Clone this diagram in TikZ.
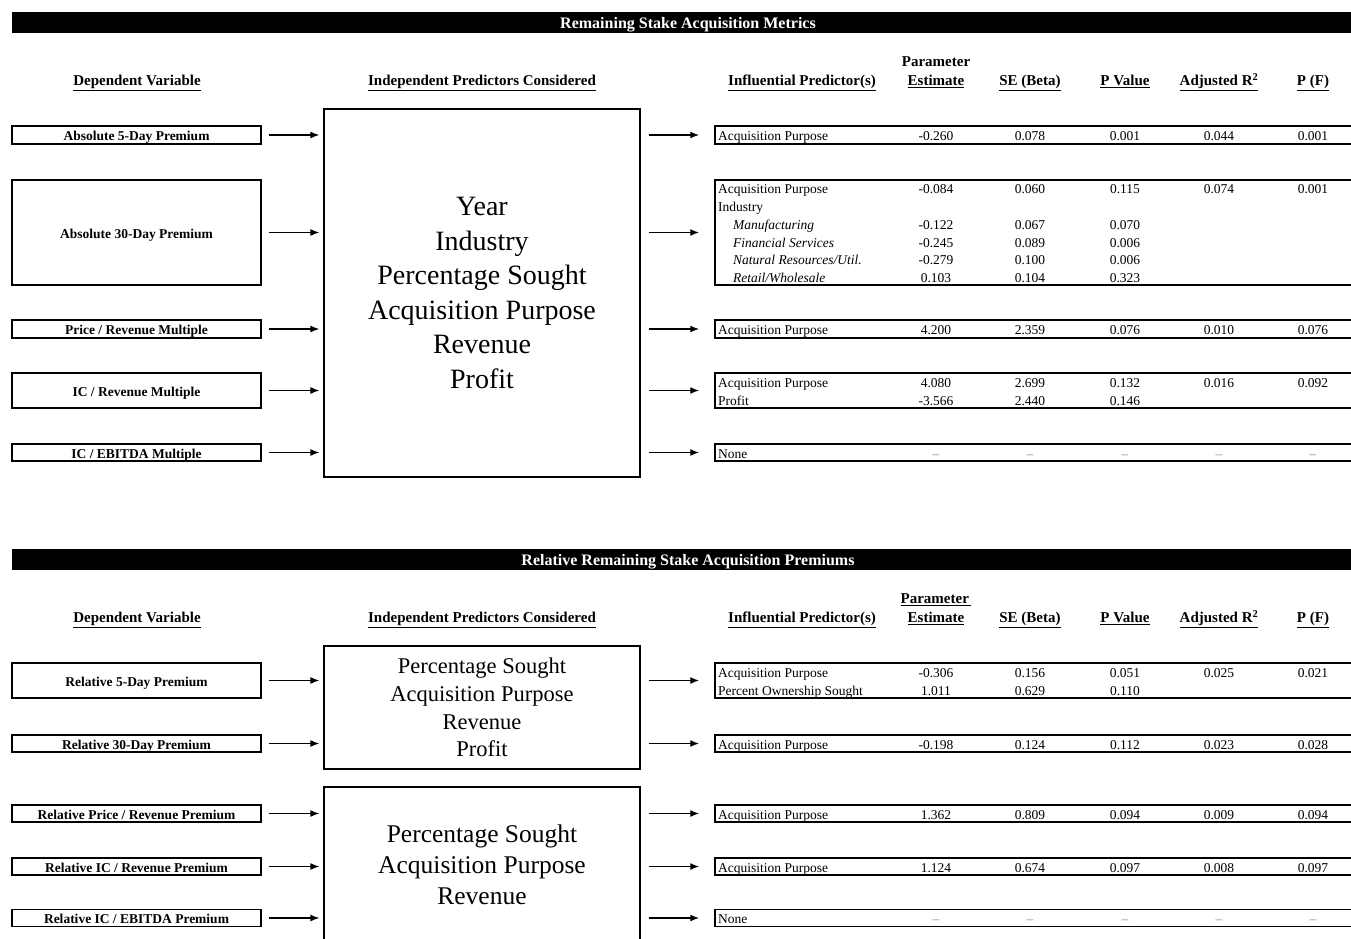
\documentclass[tikz,border=0pt]{standalone}
\usepackage{fontspec}
\setmainfont{Liberation Serif}
\usetikzlibrary{arrows.meta,calc}
\tikzset{
  titlebar/.style={fill=black,minimum width=1351pt,minimum height=21pt,inner sep=0pt},
  titletext/.style={text=white,font=\fontsize{16}{18}\selectfont\bfseries,inner sep=0pt,text height=11.5pt,text depth=0pt},
  hdr/.style={font=\fontsize{15}{17}\selectfont\bfseries,inner sep=0pt,text height=10.5pt,text depth=3pt},
  lbox/.style={draw,line width=1.4pt,minimum width=249pt,inner sep=0pt,font=\fontsize{13.5}{15}\selectfont\bfseries,text height=11pt,text depth=0pt},
  midbox/.style={draw,line width=1.2pt,minimum width=316pt,inner sep=0pt,align=center},
  rbox/.style={draw,line width=1.5pt,minimum width=645pt,inner sep=0pt},
  pred/.style={anchor=west,inner sep=0pt,font=\fontsize{13.5}{15}\selectfont,text height=11pt,text depth=0pt},
  sub/.style={pred,font=\fontsize{13.5}{15}\selectfont\itshape},
  val/.style={inner sep=0pt,font=\fontsize{13.5}{15}\selectfont,text height=11pt,text depth=0pt},
  nil/.style={val,text=black!45},
  arr/.style={line width=1.4pt,-{Latex[length=9pt,width=7pt]}},
}
\newcommand\vals[7]{%
  \node[val] (#1-pe) at (936,#2) {#3};
  \node[val] (#1-se) at (1030,#2) {#4};
  \node[val] (#1-p) at (1125,#2) {#5};
  \node[val] (#1-adj) at (1219,#2) {#6};
  \node[val] (#1-pf) at (1313,#2) {#7};}
\newcommand\headers[3]{%
  \node[hdr] (#1-dv) at (137,#2) {\underline{Dependent Variable}};
  \node[hdr] (#1-ip) at (482,#2) {\underline{Independent Predictors Considered}};
  \node[hdr] (#1-inf) at (802,#2) {\underline{Influential Predictor(s)}};
  \node[hdr] (#1-par) at (936,#2-19) {#3};
  \node[hdr] (#1-est) at (936,#2) {\underline{Estimate}};
  \node[hdr] (#1-seh) at (1030,#2) {\underline{SE (Beta)}};
  \node[hdr] (#1-pv) at (1125,#2) {\underline{P Value}};
  \node[hdr] (#1-ar) at (1219,#2) {\underline{Adjusted R\textsuperscript{2}}};
  \node[hdr] (#1-pfh) at (1313,#2) {\underline{P (F)}};}
\begin{document}
\begin{tikzpicture}[x=1pt,y=-1pt]
\useasboundingbox (0,0) rectangle (1351,939);
\clip (0,0) rectangle (1351,939);

% ---------------- Section 1 ----------------
\node[titlebar] (t1) at (687.5,22.5) {};
\node[titletext] (t1t) at (688,22.5) {Remaining Stake Acquisition Metrics};
\headers{h1}{82}{Parameter}

\node[lbox,minimum height=18pt] (a1) at (136.5,135) {Absolute 5-Day Premium};
\node[lbox,minimum height=105pt] (a2) at (136.5,232.5) {Absolute 30-Day Premium};
\node[lbox,minimum height=18pt] (a3) at (136.5,329) {Price / Revenue Multiple};
\node[lbox,minimum height=35pt] (a4) at (136.5,390.5) {IC / Revenue Multiple};
\node[lbox,minimum height=17pt] (a5) at (136.5,452.5) {IC / EBITDA Multiple};

\node[midbox,minimum height=368pt,font=\fontsize{28}{34.6}\selectfont] (m1) at (482,293)
  {Year\\Industry\\Percentage Sought\\Acquisition Purpose\\Revenue\\Profit};

\node[rbox,minimum height=18pt] (r1) at (1037.5,135) {};
\node[rbox,minimum height=105pt] (r2) at (1037.5,232.5) {};
\node[rbox,minimum height=18pt] (r3) at (1037.5,329) {};
\node[rbox,minimum height=35pt] (r4) at (1037.5,390.5) {};
\node[rbox,minimum height=17pt] (r5) at (1037.5,452.5) {};

\foreach \i in {1,...,5}{
  \draw[arr,shorten <=7pt,shorten >=4pt] (a\i.east) -- (a\i.east -| m1.west);
  \draw[arr,shorten <=8pt,shorten >=15pt] (r\i.west -| m1.east) -- (r\i.west);
}

\node[pred] (p1) at (718,135) {Acquisition Purpose};
\vals{v1}{135}{-0.260}{0.078}{0.001}{0.044}{0.001}

\node[pred] (p2a) at (718,188) {Acquisition Purpose};
\vals{v2a}{188}{-0.084}{0.060}{0.115}{0.074}{0.001}
\node[pred] (p2b) at (718,206) {Industry};
\node[sub] (p2c) at (733,224) {Manufacturing};
\node[val] (v2c-pe) at (936,224) {-0.122};
\node[val] (v2c-se) at (1030,224) {0.067};
\node[val] (v2c-p) at (1125,224) {0.070};
\node[sub] (p2d) at (733,241.5) {Financial Services};
\node[val] (v2d-pe) at (936,241.5) {-0.245};
\node[val] (v2d-se) at (1030,241.5) {0.089};
\node[val] (v2d-p) at (1125,241.5) {0.006};
\node[sub] (p2e) at (733,259) {Natural Resources/Util.};
\node[val] (v2e-pe) at (936,259) {-0.279};
\node[val] (v2e-se) at (1030,259) {0.100};
\node[val] (v2e-p) at (1125,259) {0.006};
\node[sub] (p2f) at (733,276.5) {Retail/Wholesale};
\node[val] (v2f-pe) at (936,276.5) {0.103};
\node[val] (v2f-se) at (1030,276.5) {0.104};
\node[val] (v2f-p) at (1125,276.5) {0.323};

\node[pred] (p3) at (718,329) {Acquisition Purpose};
\vals{v3}{329}{4.200}{2.359}{0.076}{0.010}{0.076}

\node[pred] (p4a) at (718,382) {Acquisition Purpose};
\vals{v4a}{382}{4.080}{2.699}{0.132}{0.016}{0.092}
\node[pred] (p4b) at (718,399.5) {Profit};
\node[val] (v4b-pe) at (936,399.5) {-3.566};
\node[val] (v4b-se) at (1030,399.5) {2.440};
\node[val] (v4b-p) at (1125,399.5) {0.146};

\node[pred] (p5) at (718,452.5) {None};
\foreach \x/\n in {936/a,1030/b,1125/c,1219/d,1313/e}{\node[nil] (n5\n) at (\x,452.5) {--};}

% ---------------- Section 2 ----------------
\node[titlebar] (t2) at (687.5,559.5) {};
\node[titletext] (t2t) at (688,559.5) {Relative Remaining Stake Acquisition Premiums};
\headers{h2}{619}{\underline{Parameter\,}}

\node[lbox,minimum height=35pt] (b1) at (136.5,680.5) {Relative 5-Day Premium};
\node[lbox,minimum height=17pt] (b2) at (136.5,743.5) {Relative 30-Day Premium};
\node[lbox,minimum height=17pt] (b3) at (136.5,813.5) {Relative Price / Revenue Premium};
\node[lbox,minimum height=17pt] (b4) at (136.5,866.5) {Relative IC / Revenue Premium};
\node[lbox,minimum height=17pt] (b5) at (136.5,918) {Relative IC / EBITDA Premium};

\node[midbox,minimum height=123pt,font=\fontsize{22.5}{27.7}\selectfont] (m2) at (482,707.5)
  {Percentage Sought\\Acquisition Purpose\\Revenue\\Profit};
\node[midbox,minimum height=156pt,font=\fontsize{25.5}{31}\selectfont] (m3) at (482,865)
  {Percentage Sought\\Acquisition Purpose\\Revenue};

\node[rbox,minimum height=35pt] (s1) at (1037.5,680.5) {};
\node[rbox,minimum height=17pt] (s2) at (1037.5,743.5) {};
\node[rbox,minimum height=17pt] (s3) at (1037.5,813.5) {};
\node[rbox,minimum height=17pt] (s4) at (1037.5,866.5) {};
\node[rbox,minimum height=17pt] (s5) at (1037.5,918) {};

\foreach \i/\m in {1/m2,2/m2,3/m3,4/m3,5/m3}{
  \draw[arr,shorten <=7pt,shorten >=4pt] (b\i.east) -- (b\i.east -| \m.west);
  \draw[arr,shorten <=8pt,shorten >=15pt] (s\i.west -| \m.east) -- (s\i.west);
}

\node[pred] (q1a) at (718,672) {Acquisition Purpose};
\vals{w1a}{672}{-0.306}{0.156}{0.051}{0.025}{0.021}
\node[pred] (q1b) at (718,689.5) {Percent Ownership Sought};
\node[val] (w1b-pe) at (936,689.5) {1.011};
\node[val] (w1b-se) at (1030,689.5) {0.629};
\node[val] (w1b-p) at (1125,689.5) {0.110};

\node[pred] (q2) at (718,743.5) {Acquisition Purpose};
\vals{w2}{743.5}{-0.198}{0.124}{0.112}{0.023}{0.028}
\node[pred] (q3) at (718,813.5) {Acquisition Purpose};
\vals{w3}{813.5}{1.362}{0.809}{0.094}{0.009}{0.094}
\node[pred] (q4) at (718,866.5) {Acquisition Purpose};
\vals{w4}{866.5}{1.124}{0.674}{0.097}{0.008}{0.097}
\node[pred] (q5) at (718,918) {None};
\foreach \x/\n in {936/a,1030/b,1125/c,1219/d,1313/e}{\node[nil] (n6\n) at (\x,918) {--};}
\end{tikzpicture}
\end{document}
